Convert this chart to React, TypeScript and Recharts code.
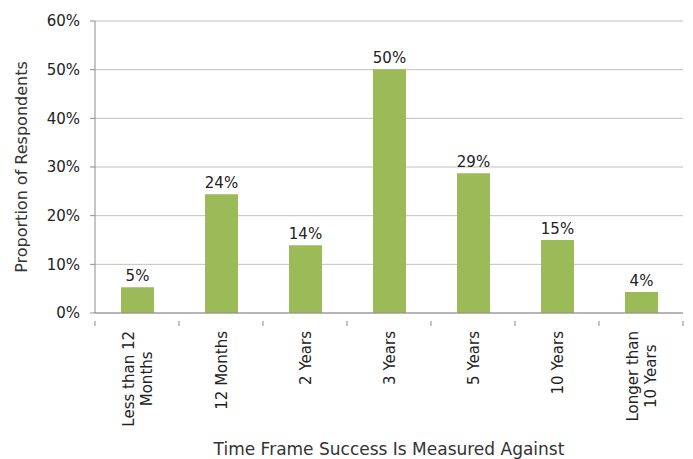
import { BarChart, Bar, XAxis, YAxis, CartesianGrid, LabelList } from 'recharts'

const categories = [
  'Less than 12\nMonths',
  '12 Months',
  '2 Years',
  '3 Years',
  '5 Years',
  '10 Years',
  'Longer than\n10 Years',
]
const shares = [5.3, 24.4, 13.9, 50.1, 28.7, 15.0, 4.3]
const shareLabels = ['5%', '24%', '14%', '50%', '29%', '15%', '4%']
const yTicks = [0, 10, 20, 30, 40, 50, 60]

const data = categories.map((name, i) => ({ name, share: shares[i], label: shareLabels[i] }))

const FONT = '"DejaVu Sans", sans-serif'
const W = 693
const H = 459
const MARGIN = { top: 21, right: 10, bottom: 0, left: 0 }
const Y_WIDTH = 95
const BAND = (W - MARGIN.left - MARGIN.right - Y_WIDTH) / categories.length

let ctx: CanvasRenderingContext2D | null = null
const measure = (s: string) => {
  if (!ctx) ctx = document.createElement('canvas').getContext('2d')
  if (!ctx) return s.length * 8
  ctx.font = `15px ${FONT}`
  return ctx.measureText(s).width
}

// rotated, multi-line category labels plus boundary tick marks
const CategoryTick = ({ x, y, payload, index }: any) => {
  const lines = String(payload.value).split('\n')
  const lh = 18
  const longest = Math.max(...lines.map(measure))
  const isLast = index === categories.length - 1
  return (
    <g>
      <line x1={x - BAND / 2} x2={x - BAND / 2} y1={y} y2={y + 5} stroke="#8c8c8c" />
      {isLast && <line x1={x + BAND / 2} x2={x + BAND / 2} y1={y} y2={y + 5} stroke="#8c8c8c" />}
      <g transform={`translate(${x},${y + 10}) rotate(-90)`}>
        <text textAnchor="middle" fontSize={15} fill="#222" fontFamily={FONT}>
          {lines.map((line, i) => (
            <tspan key={i} x={-longest / 2} y={(i - (lines.length - 1) / 2) * lh + 5.5}>
              {line}
            </tspan>
          ))}
        </text>
      </g>
    </g>
  )
}

export default function App() {
  return (
    <div style={{ position: 'absolute', left: 0, top: 0, width: W, height: H, background: '#fff' }}>
      <BarChart width={W} height={H} data={data} margin={MARGIN} barCategoryGap="0%">
        <CartesianGrid vertical={false} stroke="#c0c0c0" />
        <XAxis
          dataKey="name"
          interval={0}
          height={146}
          stroke="#8c8c8c"
          tickLine={false}
          tick={<CategoryTick />}
          label={{
            value: 'Time Frame Success Is Measured Against',
            position: 'insideBottom',
            offset: 4,
            fontSize: 17,
            fill: '#333',
            fontFamily: FONT,
          }}
        />
        <YAxis
          width={Y_WIDTH}
          domain={[0, 60]}
          ticks={yTicks}
          tickFormatter={(v: number) => `${v}%`}
          stroke="#8c8c8c"
          tickSize={5}
          tickMargin={10}
          tick={{ fontSize: 15, fill: '#222', fontFamily: FONT }}
          label={{
            value: 'Proportion of Respondents',
            angle: -90,
            position: 'insideLeft',
            offset: 21,
            style: { textAnchor: 'middle' },
            fontSize: 16,
            fill: '#333',
            fontFamily: FONT,
          }}
        />
        <Bar dataKey="share" fill="#9bbb59" barSize={33} isAnimationActive={false}>
          <LabelList
            dataKey="label"
            position="top"
            offset={6}
            fontSize={15}
            fill="#222"
            fontFamily={FONT}
          />
        </Bar>
      </BarChart>
    </div>
  )
}
